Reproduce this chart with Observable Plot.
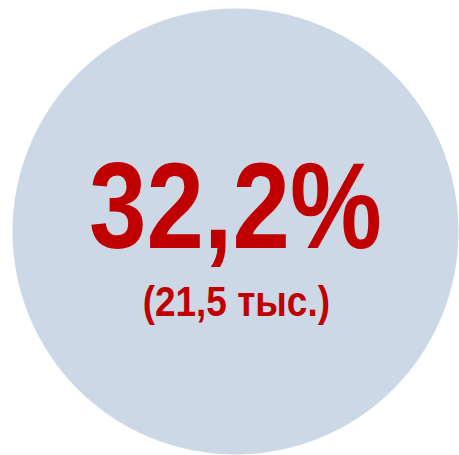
<!DOCTYPE html>
<html>
<head>
<meta charset="utf-8">
<script src="https://cdn.jsdelivr.net/npm/d3@7"></script>
<script src="https://cdn.jsdelivr.net/npm/@observablehq/plot@0.6"></script>
<style>
  html, body { margin: 0; padding: 0; background: #fff; }
</style>
</head>
<body>
<div id="chart"></div>
<script>
const shares = [32.2];          // percent
const counts = [21.5];          // thousand people
const unitLabels = ["тыс."];

const fmt = v => String(v).replace(".", ",");
const rows = shares.map((s, i) => ({
  share: fmt(s) + "%",
  count: "(" + fmt(counts[i]) + " " + unitLabels[i] + ")"
}));

// horizontally condense a text mark around the frame centre (emulates a narrow face)
const condense = k => (index, scales, values, dims, context, next) => {
  const g = next(index, scales, values, dims, context);
  const cx = dims.marginLeft + (dims.width - dims.marginLeft - dims.marginRight) / 2;
  const wrap = document.createElementNS("http://www.w3.org/2000/svg", "g");
  wrap.setAttribute("transform", `translate(${cx},0) scale(${k},1) translate(${-cx},0)`);
  wrap.appendChild(g);
  return wrap;
};

const chart = Plot.plot({
  width: 459,
  height: 455,
  marginLeft: 11,
  marginRight: 0,
  marginTop: 7,
  marginBottom: 0,
  x: {axis: null},
  y: {axis: null},
  style: {background: "#fff"},
  marks: [
    Plot.dot(rows, {frameAnchor: "middle", r: 223, fill: "#CDD8E7", stroke: "none"}),
    Plot.text(rows, {
      frameAnchor: "middle", text: "share", dy: -23, dx: 0,
      fontSize: 123, fontWeight: "bold", fill: "#C00000",
      fontFamily: "'Liberation Sans Narrow', 'Arial Narrow', 'Liberation Sans', Arial, sans-serif",
      render: condense(0.84)
    }),
    Plot.text(rows, {
      frameAnchor: "middle", text: "count", dy: 71, dx: 1,
      fontSize: 42, fontWeight: "bold", fill: "#C00000",
      fontFamily: "'Liberation Sans Narrow', 'Arial Narrow', 'Liberation Sans', Arial, sans-serif",
      render: condense(0.88)
    })
  ]
});
document.getElementById("chart").appendChild(chart);
</script>
</body>
</html>
